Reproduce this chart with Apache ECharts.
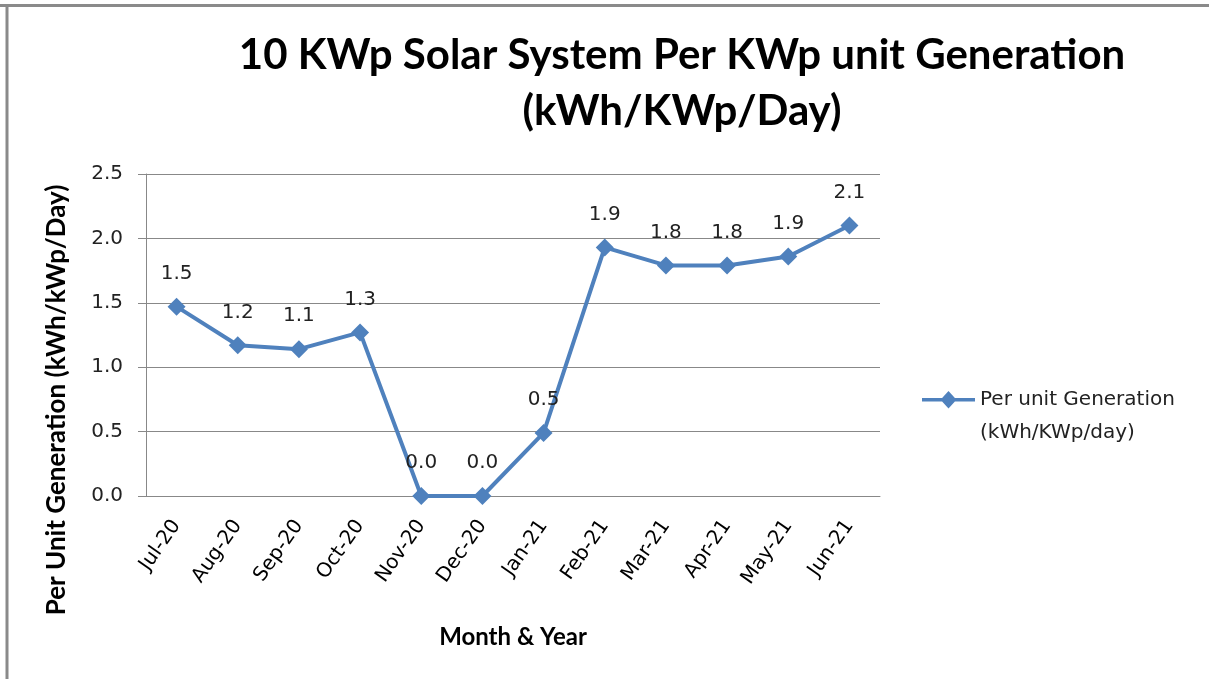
<!DOCTYPE html>
<html lang="en">
<head>
    <meta charset="UTF-8">
    <title>10 KWp Solar System Per KWp unit Generation</title>
    <script src="https://cdn.jsdelivr.net/npm/echarts@6/dist/echarts.min.js"></script>
    <style>
        html, body { margin: 0; padding: 0; background: #fff; }
        #container { width: 1209px; height: 679px; }
    </style>
</head>
<body>
<div id="container"></div>
<script>
    var months = ['Jul-20', 'Aug-20', 'Sep-20', 'Oct-20', 'Nov-20', 'Dec-20',
                  'Jan-21', 'Feb-21', 'Mar-21', 'Apr-21', 'May-21', 'Jun-21'];
    var perUnit = [1.47, 1.17, 1.14, 1.27, 0.0, 0.0, 0.49, 1.93, 1.79, 1.79, 1.86, 2.10];
    var seriesName = 'Per unit Generation (kWh/KWp/day)';

    var boldFont = 'Lato, "Open Sans", sans-serif';
    var font = '"DejaVu Sans", sans-serif';
    var chart = echarts.init(document.getElementById('container'));

    // legend icon: line + diamond sitting at the first text line (box is 53 x 66)
    var legendIcon = 'path://M0,0L0.01,0L0,0.01Z' +
        'M0,15L53,15L53,18.5L0,18.5Z' +
        'M26.5,8L34.5,16.75L26.5,25.5L18.5,16.75Z' +
        'M0,66L0.01,66L0,65.99Z';

    var option = {
        backgroundColor: '#fff',
        animation: false,
        title: {
            text: '10 KWp Solar System Per KWp unit Generation\n(kWh/KWp/Day)',
            left: 677,
            top: 22,
            textAlign: 'center',
            textStyle: {
                fontFamily: boldFont,
                fontWeight: 'bold',
                fontSize: 42,
                lineHeight: 56,
                color: '#000'
            }
        },
        legend: {
            orient: 'vertical',
            left: 917,
            top: 378,
            itemWidth: 53,
            itemHeight: 66,
            icon: legendIcon,
            formatter: function (name) {
                return name.replace(' (', '\n(');
            },
            textStyle: {
                fontFamily: font,
                fontSize: 20,
                lineHeight: 33,
                color: '#222'
            }
        },
        grid: {
            left: 146,
            right: 329,
            top: 174,
            bottom: 183
        },
        xAxis: {
            type: 'category',
            data: months,
            boundaryGap: true,
            name: 'Month & Year',
            nameLocation: 'middle',
            nameGap: 129,
            nameTextStyle: {
                fontFamily: boldFont,
                fontWeight: 'bold',
                fontSize: 24,
                color: '#000'
            },
            axisLine: { lineStyle: { color: '#888', width: 1 } },
            axisTick: { show: false },
            axisLabel: {
                rotate: 55,
                margin: 26,
                fontFamily: font,
                fontSize: 20,
                color: '#000'
            }
        },
        yAxis: {
            type: 'value',
            min: 0,
            max: 2.5,
            interval: 0.5,
            axisLine: { show: true, lineStyle: { color: '#888', width: 1 } },
            axisTick: { show: true, length: 8, lineStyle: { color: '#888' } },
            splitLine: { lineStyle: { color: '#888', width: 1 } },
            axisLabel: {
                margin: 23,
                fontFamily: font,
                fontSize: 20,
                color: '#222',
                formatter: function (v) { return v.toFixed(1); }
            }
        },
        graphic: [
            {
                type: 'line',
                shape: { x1: 0, y1: 5.5, x2: 1209, y2: 5.5 },
                style: { stroke: '#8a8a8a', lineWidth: 3 }
            },
            {
                type: 'line',
                shape: { x1: 7, y1: 5, x2: 7, y2: 679 },
                style: { stroke: '#8a8a8a', lineWidth: 3 }
            },
            {
                type: 'text',
                x: 57,
                y: 400,
                rotation: Math.PI / 2,
                style: {
                    text: 'Per Unit Generation (kWh/kWp/Day)',
                    fontFamily: boldFont,
                    fontWeight: 'bold',
                    fontSize: 26,
                    fill: '#000',
                    textAlign: 'center',
                    textVerticalAlign: 'middle'
                }
            }
        ],
        series: [{
            name: seriesName,
            type: 'line',
            data: perUnit,
            symbol: 'diamond',
            symbolSize: 18,
            color: '#4F81BD',
            lineStyle: { width: 4, color: '#4F81BD' },
            itemStyle: { color: '#4F81BD' },
            label: {
                show: true,
                position: 'top',
                distance: 14,
                fontFamily: font,
                fontSize: 20,
                color: '#222',
                formatter: function (p) { return p.value.toFixed(1); }
            }
        }]
    };
    chart.setOption(option);
</script>
</body>
</html>
